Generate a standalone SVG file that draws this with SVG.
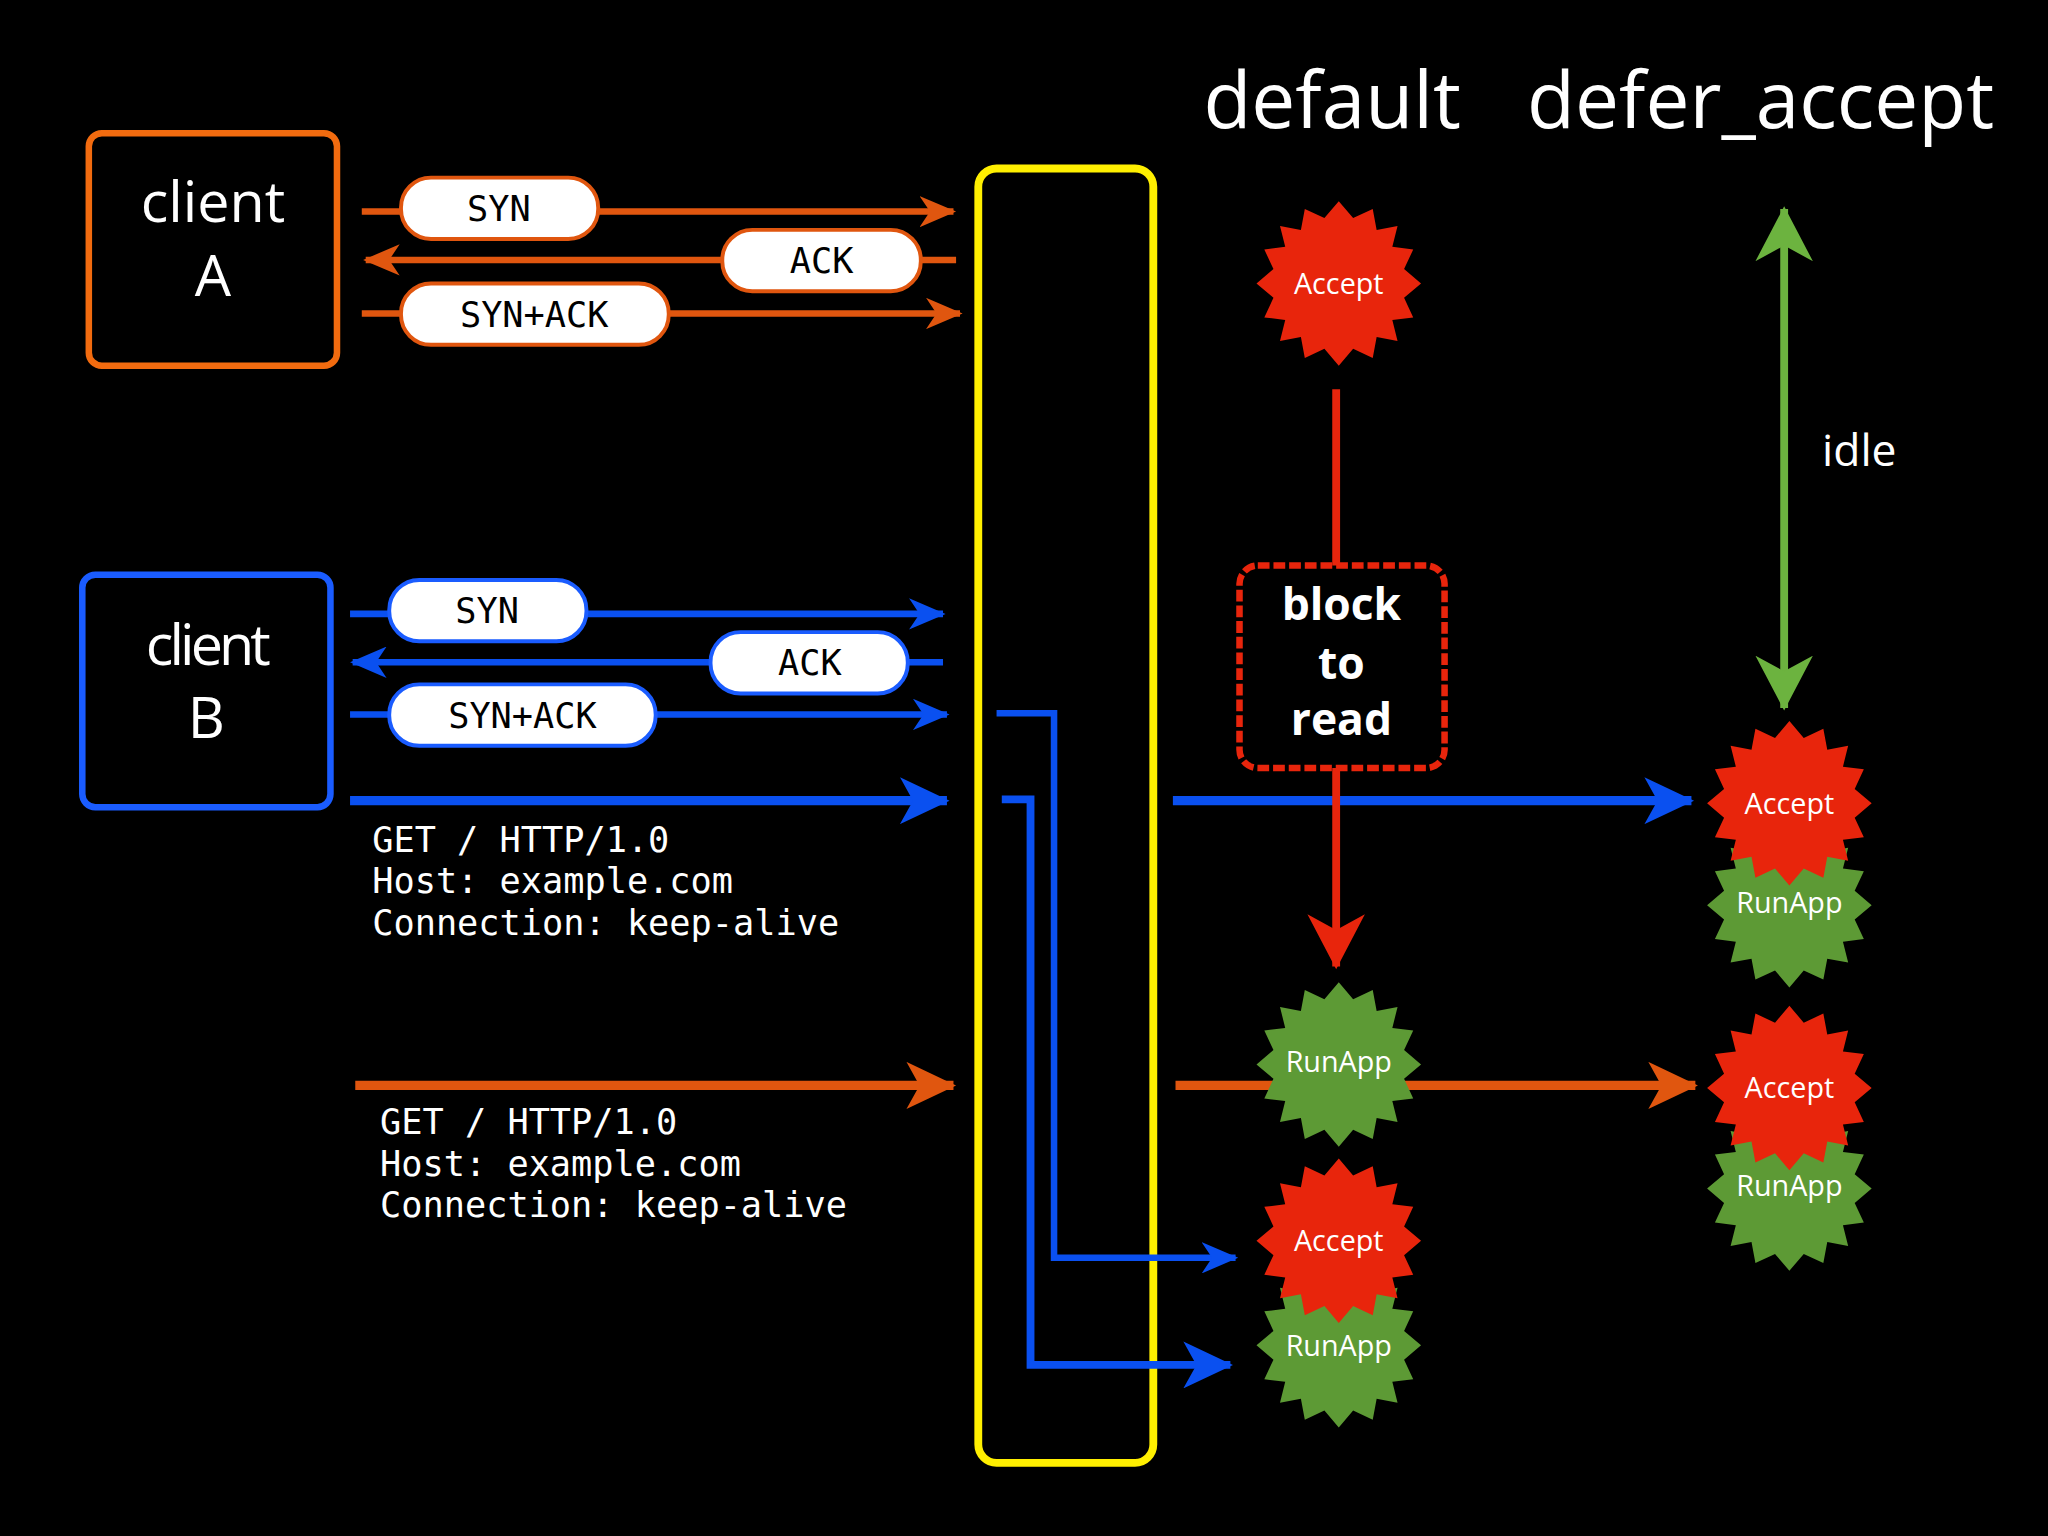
<svg xmlns="http://www.w3.org/2000/svg" width="2048" height="1536" viewBox="0 0 2048 1536">
<style>
.t{font-family:"Open Sans","DejaVu Sans",sans-serif;fill:#fff}
.m{font-family:"DejaVu Sans Mono","Liberation Mono",monospace;font-size:27px;fill:#fff}
.p{font-family:"DejaVu Sans Mono","Liberation Mono",monospace;font-size:27px;fill:#000;text-anchor:middle}
.po{fill:#fff;stroke:#e0560f;stroke-width:3}
.pb{fill:#fff;stroke:#1a5cff;stroke-width:3}
.s{font-family:"Open Sans","DejaVu Sans",sans-serif;font-size:22px;fill:#fff;text-anchor:middle}
.o{stroke:#e0560f;fill:none}
.b{stroke:#0a50f0;fill:none}
</style>
<defs>
<marker id="ao" markerWidth="30" markerHeight="24" refX="26" refY="12" orient="auto" markerUnits="userSpaceOnUse"><path d="M0,0 L28,12 L0,24 L8,12 Z" fill="#e0560f"/></marker>
<marker id="ab" markerWidth="30" markerHeight="24" refX="26" refY="12" orient="auto" markerUnits="userSpaceOnUse"><path d="M0,0 L28,12 L0,24 L8,12 Z" fill="#0a50f0"/></marker>
<marker id="abL" markerWidth="40" markerHeight="36" refX="36" refY="18" orient="auto" markerUnits="userSpaceOnUse"><path d="M0,0 L38,18 L0,36 L10,18 Z" fill="#0a50f0"/></marker>
<marker id="aoL" markerWidth="40" markerHeight="36" refX="36" refY="18" orient="auto" markerUnits="userSpaceOnUse"><path d="M0,0 L38,18 L0,36 L10,18 Z" fill="#e0560f"/></marker>
<marker id="ar" markerWidth="44" markerHeight="44" refX="40" refY="22" orient="auto" markerUnits="userSpaceOnUse"><path d="M0,0 L42,22 L0,44 L12,22 Z" fill="#e8250c"/></marker>
<marker id="ag" markerWidth="44" markerHeight="44" refX="40" refY="22" orient="auto-start-reverse" markerUnits="userSpaceOnUse"><path d="M0,0 L42,22 L0,44 L12,22 Z" fill="#6cb33f"/></marker>
<polygon id="star" points="0,-63 11,-50 26,-57 29,-41 45,-44 41,-28 57,-26 50,-11 63,0 50,11 57,26 41,28 45,44 29,41 26,57 11,50 0,63 -11,50 -26,57 -29,41 -45,44 -41,28 -57,26 -50,11 -63,0 -50,-11 -57,-26 -41,-28 -45,-44 -29,-41 -26,-57 -11,-50"/>
</defs>
<rect width="2048" height="1536" fill="#000"/>
<g transform="scale(1.30612)">
<text class="t" x="1020" y="98" font-size="60" text-anchor="middle">default</text>
<text class="t" x="1348" y="98" font-size="60" text-anchor="middle">defer_accept</text>
<g id="clientA"><rect x="68" y="102" width="190" height="178" rx="10" fill="none" stroke="#f26b0f" stroke-width="5"/><text class="t" x="163" y="170" font-size="44" text-anchor="middle">client</text><text class="t" x="163" y="227" font-size="44" text-anchor="middle">A</text></g>
<g id="clientB"><rect x="63" y="440" width="190" height="178" rx="10" fill="none" stroke="#1a5cff" stroke-width="5"/><text class="t" x="158" y="509" font-size="44" text-anchor="middle" letter-spacing="-3">client</text><text class="t" x="158" y="565" font-size="44" text-anchor="middle">B</text></g>
<g id="server"><rect x="749" y="129" width="134" height="991" rx="14" fill="none" stroke="#ffef00" stroke-width="6"/></g>
<g id="connectors">
<line class="o" x1="277" y1="162" x2="730" y2="162" stroke-width="5" marker-end="url(#ao)"/>
<line class="o" x1="732" y1="199" x2="280" y2="199" stroke-width="5" marker-end="url(#ao)"/>
<line class="o" x1="277" y1="240" x2="735" y2="240" stroke-width="5" marker-end="url(#ao)"/>
<line class="b" x1="268" y1="470" x2="722" y2="470" stroke-width="5" marker-end="url(#ab)"/>
<line class="b" x1="722" y1="507" x2="270" y2="507" stroke-width="5" marker-end="url(#ab)"/>
<line class="b" x1="268" y1="547" x2="725" y2="547" stroke-width="5" marker-end="url(#ab)"/>
<line class="b" x1="268" y1="613" x2="725" y2="613" stroke-width="7" marker-end="url(#abL)"/>
<line class="o" x1="272" y1="831" x2="730" y2="831" stroke-width="7" marker-end="url(#aoL)"/>
<polyline class="b" points="763,546 807,546 807,963 946,963" stroke-width="5" marker-end="url(#ab)"/>
<polyline class="b" points="767,612 789,612 789,1045 942,1045" stroke-width="6" marker-end="url(#abL)"/>
<line class="b" x1="898" y1="613" x2="1295" y2="613" stroke-width="7" marker-end="url(#abL)"/>
<line class="o" x1="900" y1="831" x2="1298" y2="831" stroke-width="7" marker-end="url(#aoL)"/>
<line x1="1023" y1="298" x2="1023" y2="740" stroke="#e8250c" stroke-width="6" marker-end="url(#ar)"/>
<line x1="1366" y1="160" x2="1366" y2="542" stroke="#6cb33f" stroke-width="6" marker-start="url(#ag)" marker-end="url(#ag)"/>
</g>
<g id="pillsA">
<rect class="po" x="307" y="136" width="151" height="47" rx="23"/><text class="p" x="382" y="169">SYN</text>
<rect class="po" x="553" y="176" width="152" height="47" rx="23"/><text class="p" x="629" y="209">ACK</text>
<rect class="po" x="307" y="217" width="205" height="47" rx="23"/><text class="p" x="409" y="250">SYN+ACK</text>
</g>
<g id="pillsB">
<rect class="pb" x="298" y="444" width="151" height="47" rx="23"/><text class="p" x="373" y="477">SYN</text>
<rect class="pb" x="544" y="484" width="151" height="47" rx="23"/><text class="p" x="620" y="517">ACK</text>
<rect class="pb" x="298" y="524" width="204" height="47" rx="23"/><text class="p" x="400" y="557">SYN+ACK</text>
</g>
<g id="req1"><text class="m" x="285" y="652">GET / HTTP/1.0</text><text class="m" x="285" y="684">Host: example.com</text><text class="m" x="285" y="716">Connection: keep-alive</text></g>
<g id="req2"><text class="m" x="291" y="868">GET / HTTP/1.0</text><text class="m" x="291" y="900">Host: example.com</text><text class="m" x="291" y="932">Connection: keep-alive</text></g>
<g id="block"><rect x="949" y="433" width="157" height="155" rx="14" fill="#000" stroke="#e8250c" stroke-width="5" stroke-dasharray="9,3"/>
<text class="t" x="1027" y="475" font-size="34" font-weight="bold" text-anchor="middle">block</text><text class="t" x="1027" y="520" font-size="34" font-weight="bold" text-anchor="middle">to</text><text class="t" x="1027" y="563" font-size="34" font-weight="bold" text-anchor="middle">read</text></g>
<text class="t" x="1395" y="357" font-size="34">idle</text>
<g id="d-accept1"><use href="#star" x="1025" y="217" fill="#e8250c"/><text class="s" x="1025" y="225">Accept</text></g>
<g id="d-runapp1"><use href="#star" x="1025" y="815" fill="#5d9a35"/><text class="s" x="1025" y="821">RunApp</text></g>
<g id="d-runapp2"><use href="#star" x="1025" y="1030" fill="#5d9a35"/><text class="s" x="1025" y="1038">RunApp</text></g>
<g id="d-accept2"><use href="#star" x="1025" y="950" fill="#e8250c"/><text class="s" x="1025" y="958">Accept</text></g>
<g id="r-runapp1"><use href="#star" x="1370" y="693" fill="#5d9a35"/><text class="s" x="1370" y="699">RunApp</text></g>
<g id="r-accept1"><use href="#star" x="1370" y="615" fill="#e8250c"/><text class="s" x="1370" y="623">Accept</text></g>
<g id="r-runapp2"><use href="#star" x="1370" y="910" fill="#5d9a35"/><text class="s" x="1370" y="916">RunApp</text></g>
<g id="r-accept2"><use href="#star" x="1370" y="833" fill="#e8250c"/><text class="s" x="1370" y="841">Accept</text></g>
</g>
</svg>
